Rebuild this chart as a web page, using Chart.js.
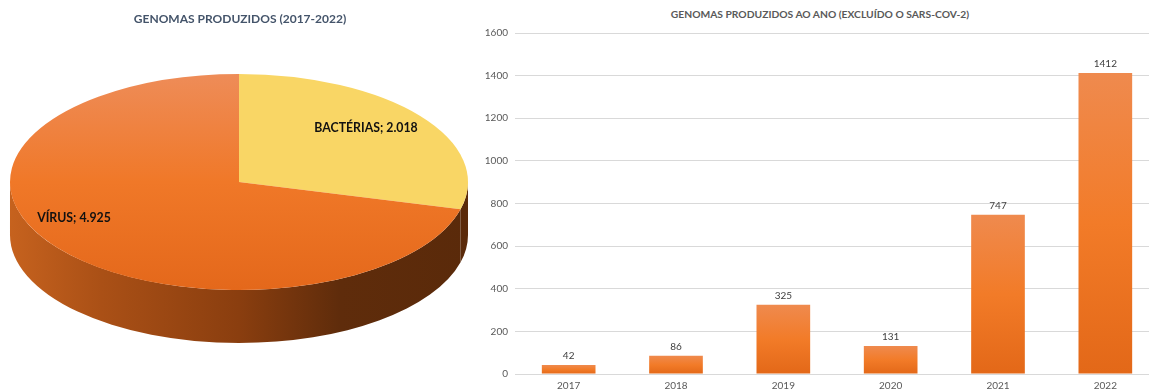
<!DOCTYPE html>
<html>
<head>
<meta charset="utf-8">
<script src="https://cdn.jsdelivr.net/npm/chart.js@4"></script>
<style>
  html, body { margin: 0; padding: 0; background: #fff; overflow: hidden; }
  body { width: 1149px; height: 389px; position: relative; }
  #pieChart { position: absolute; left: 0; top: 0; }
  #barChart { position: absolute; left: 480px; top: 0; }
  #barTitle {
    position: absolute; left: 620px; top: 8px; width: 400px; text-align: center;
    font: bold 10.3px Lato, sans-serif; color: #595959;
  }
</style>
</head>
<body>
<canvas id="pieChart" width="480" height="389"></canvas>
<div id="barTitle">GENOMAS PRODUZIDOS AO ANO (EXCLUÍDO O SARS-COV-2)</div>
<canvas id="barChart" width="679" height="389"></canvas>
<script>
// pizza
var pieLabels = ['BACTÉRIAS', 'VÍRUS'];
var pieValues = [2018, 4925];
// barras
var years = ['2017', '2018', '2019', '2020', '2021', '2022'];
var genomesPerYear = [42, 86, 325, 131, 747, 1412];
var yTicks = [0, 200, 400, 600, 800, 1000, 1200, 1400, 1600];

function fmt(n) {
  return n.toString().replace(/\B(?=(\d{3})+(?!\d))/g, '.');
}

// elipse da pizza 3D (em pixels da tela)
var ell = { cx: 239, cy: 182, rx: 229, ry: 108, depth: 53 };
var pieLabelPos = [[366, 128], [74, 218]];

var pie3d = {
  id: 'pie3d',
  beforeDatasetsDraw: function (chart) {
    var ctx = chart.ctx;
    var arcs = chart.getDatasetMeta(0).data;
    var x = arcs[0].x, y = arcs[0].y, R = arcs[0].outerRadius;
    var sx = ell.rx / R, sy = ell.ry / R;
    ctx.save();
    ctx.setTransform(sx, 0, 0, sy, ell.cx - x * sx, ell.cy - y * sy);
    var d = ell.depth / sy;
    var g = ctx.createLinearGradient(x - R, 0, x + R, 0);
    g.addColorStop(0, '#C6621E');
    g.addColorStop(0.2, '#AA5016');
    g.addColorStop(0.5, '#8A3E0F');
    g.addColorStop(0.72, '#5F2C0B');
    g.addColorStop(1, '#5A2A0A');
    arcs.forEach(function (a) {
      var s = Math.max(a.startAngle, 0), e = Math.min(a.endAngle, Math.PI);
      if (e <= s) return;
      ctx.beginPath();
      ctx.arc(x, y, R, s, e);
      ctx.lineTo(x + R * Math.cos(e), y + R * Math.sin(e) + d);
      ctx.arc(x, y + d, R, e, s, true);
      ctx.closePath();
      ctx.fillStyle = g;
      ctx.fill();
    });
  },
  afterDatasetsDraw: function (chart) {
    var ctx = chart.ctx;
    ctx.restore();
    ctx.save();
    ctx.font = 'bold 12.3px Lato, sans-serif';
    ctx.fillStyle = '#111';
    ctx.textAlign = 'center';
    ctx.textBaseline = 'middle';
    pieLabels.forEach(function (l, i) {
      ctx.fillText(l + '; ' + fmt(pieValues[i]), pieLabelPos[i][0], pieLabelPos[i][1]);
    });
    ctx.restore();
  }
};

new Chart(document.getElementById('pieChart'), {
  type: 'pie',
  data: {
    labels: pieLabels,
    datasets: [{
      data: pieValues,
      borderWidth: 0,
      clip: false,
      backgroundColor: function (c) {
        var a = c.chart.chartArea;
        if (!a) return '#F07A28';
        if (c.dataIndex === 0) return '#F9D665';
        var cy = (a.top + a.bottom) / 2, R = Math.min(a.right - a.left, a.bottom - a.top) / 2;
        var g = c.chart.ctx.createLinearGradient(0, cy - R, 0, cy + R);
        g.addColorStop(0, '#EE8C58');
        g.addColorStop(0.5, '#F07828');
        g.addColorStop(1, '#E4681B');
        return g;
      }
    }]
  },
  options: {
    responsive: false,
    animation: false,
    layout: { padding: { top: 0, bottom: 10 } },
    plugins: {
      legend: { display: false },
      tooltip: { enabled: false },
      title: {
        display: true,
        text: 'GENOMAS PRODUZIDOS (2017-2022)',
        color: '#44546A',
        font: { family: 'Lato, sans-serif', size: 12, weight: 'bold' },
        padding: { top: 12, bottom: 20 }
      }
    }
  },
  plugins: [pie3d]
});

// rotulos em cima das barras
var barValues = {
  id: 'barValues',
  afterDatasetsDraw: function (chart) {
    var ctx = chart.ctx;
    ctx.save();
    ctx.font = '10px Lato, sans-serif';
    ctx.fillStyle = '#404040';
    ctx.textAlign = 'center';
    ctx.textBaseline = 'middle';
    chart.getDatasetMeta(0).data.forEach(function (b, i) {
      ctx.fillText(genomesPerYear[i], b.x, b.y - 9);
    });
    ctx.restore();
  }
};

new Chart(document.getElementById('barChart'), {
  type: 'bar',
  data: {
    labels: years,
    datasets: [{
      data: genomesPerYear,
      barPercentage: 0.5,
      categoryPercentage: 1.0,
      borderWidth: 0,
      backgroundColor: function (c) {
        var chart = c.chart;
        if (!chart.chartArea) return '#F07A28';
        var ys = chart.scales.y;
        var top = ys.getPixelForValue(genomesPerYear[c.dataIndex]);
        var bot = ys.getPixelForValue(0);
        var g = chart.ctx.createLinearGradient(0, top, 0, bot);
        g.addColorStop(0, '#EF8A4E');
        g.addColorStop(0.5, '#F27B28');
        g.addColorStop(1, '#E36818');
        return g;
      }
    }]
  },
  options: {
    responsive: false,
    animation: false,
    layout: { padding: { top: 33, left: 0, right: 0, bottom: 0 } },
    plugins: {
      legend: { display: false },
      tooltip: { enabled: false }
    },
    scales: {
      x: {
        grid: { display: false, drawTicks: false },
        border: { color: '#D9D9D9' },
        ticks: { color: '#595959', font: { family: 'Lato, sans-serif', size: 10 }, padding: 6 },
        afterFit: function (s) { s.height = 15; }
      },
      y: {
        min: 0,
        max: 1600,
        afterBuildTicks: function (s) { s.ticks = yTicks.map(function (v) { return { value: v }; }); },
        grid: { color: '#D9D9D9', drawTicks: false },
        border: { display: false },
        ticks: {
          color: '#595959', font: { family: 'Lato, sans-serif', size: 10 }, padding: 7,
          callback: function (v) { return String(v); }
        },
        afterFit: function (s) { s.width = 35; }
      }
    }
  },
  plugins: [barValues]
});
</script>
</body>
</html>
